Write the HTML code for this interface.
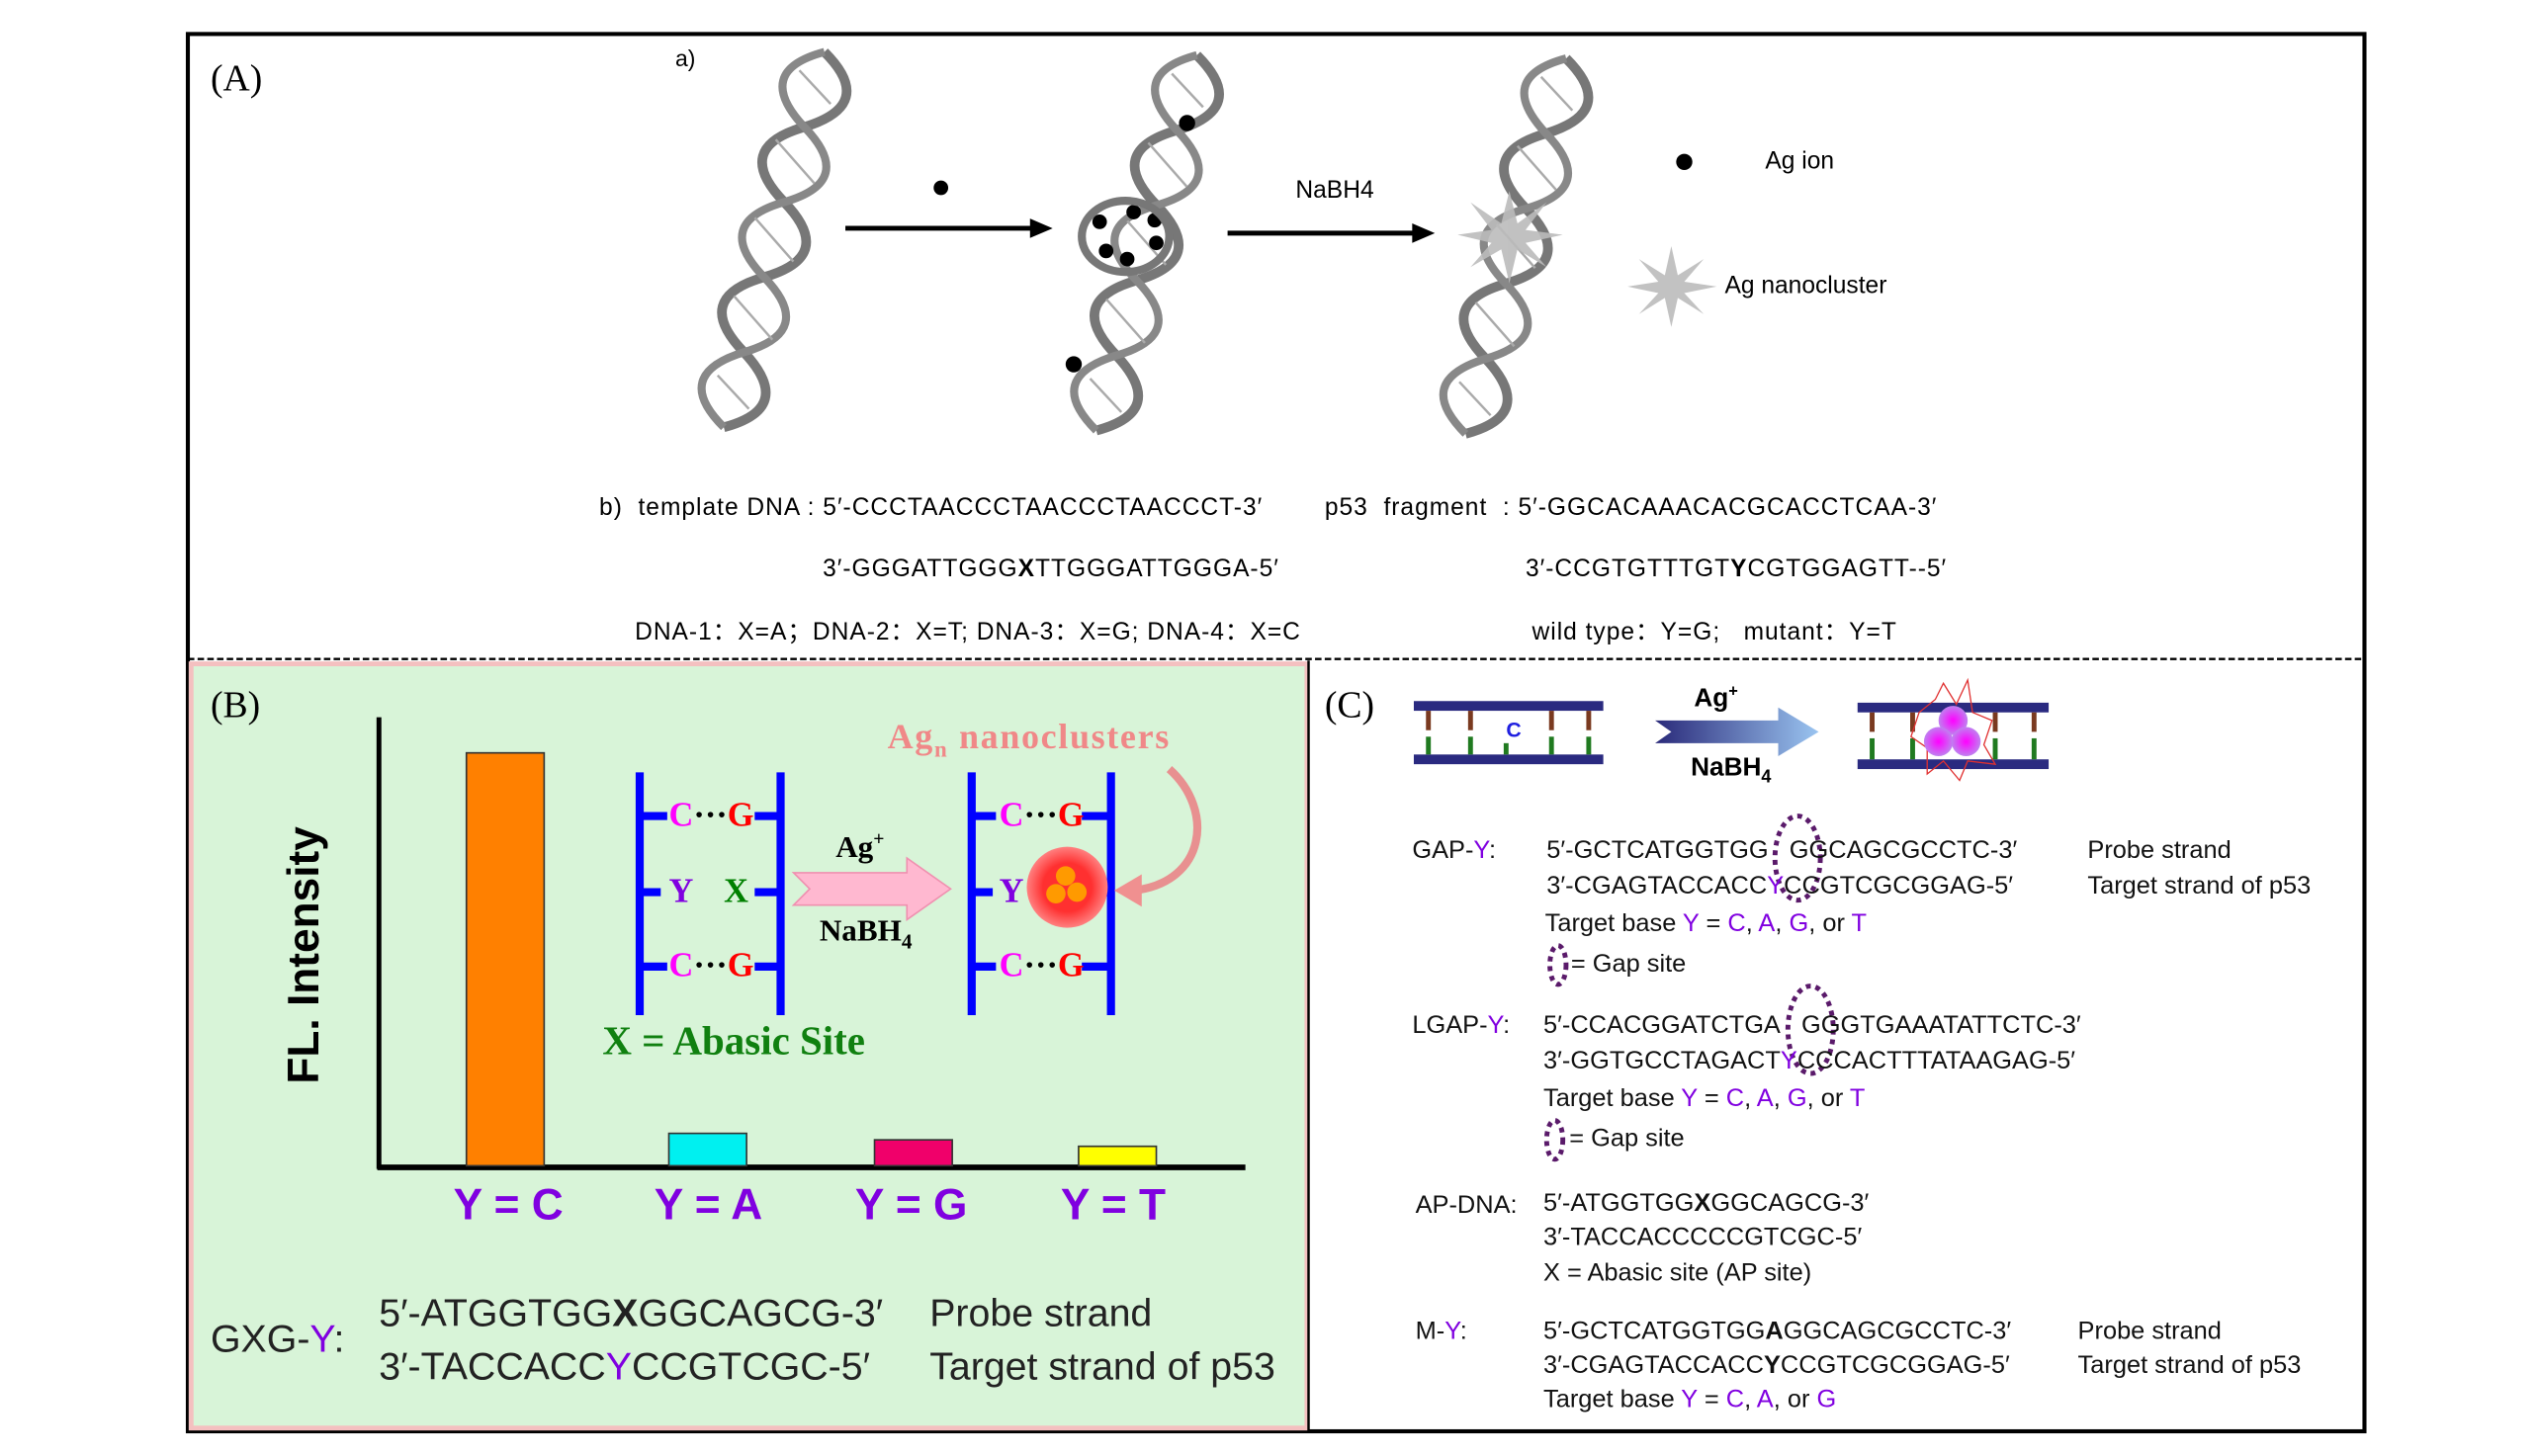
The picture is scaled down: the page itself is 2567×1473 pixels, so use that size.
<!DOCTYPE html>
<html><head><meta charset="utf-8"><style>
body{margin:0;background:#fff;width:2567px;height:1473px;overflow:hidden}
#w{position:absolute;left:0;top:0;width:1560px;height:895px;transform:scale(1.638);transform-origin:0 0;font-family:"Liberation Sans",Arial,sans-serif}
.t{position:absolute;white-space:nowrap;line-height:1}
.s{font-family:"Liberation Serif",serif}
.p{color:#8000e0}
.seq{font-size:15.5px;color:#111}
.b{letter-spacing:0.6px}
</style></head><body><div id="w">
<svg width="1560" height="895" style="position:absolute;left:0;top:0">
<defs>
<g id="hx">
<path d="M0,-120 Q40,-97 0,-72 Q-40,-48 0,-24 Q40,0 0,24 Q-40,48 0,72 Q40,97 0,120" fill="none" stroke="#777" stroke-width="6"/>
<path d="M0,-120 Q-40,-97 0,-72 Q40,-48 0,-24 Q-40,0 0,24 Q40,48 0,72 Q-40,97 0,120" fill="none" stroke="#888" stroke-width="5"/>
<g stroke="#aaa" stroke-width="1.5">
<line x1="-12" y1="-105" x2="12" y2="-90"/><line x1="-15" y1="-60" x2="15" y2="-40"/><line x1="-15" y1="-10" x2="15" y2="10"/><line x1="-15" y1="40" x2="15" y2="60"/><line x1="-12" y1="90" x2="12" y2="105"/>
</g></g>
<linearGradient id="bg" x1="0" x2="1"><stop offset="0" stop-color="#2a2a7a"/><stop offset="1" stop-color="#9ac4f0"/></linearGradient>
<radialGradient id="pk"><stop offset="0" stop-color="#f0f"/><stop offset="1" stop-color="#c080f0"/></radialGradient>
<radialGradient id="rd"><stop offset="0.6" stop-color="#ff3030"/><stop offset="1" stop-color="#ff8080"/></radialGradient>
</defs>
<rect x="116" y="21" width="1344" height="863" fill="none" stroke="#000" stroke-width="2.5"/>
<rect x="118" y="410" width="689" height="472" fill="#d8f4d8" stroke="#f4c0c0" stroke-width="3"/>
<line x1="116" y1="407" x2="1460" y2="407" stroke="#000" stroke-width="1.5" stroke-dasharray="4,2"/>
<line x1="808" y1="408" x2="808" y2="884" stroke="#000" stroke-width="1.5"/>
<use href="#hx" transform="translate(478,148) rotate(15)"/>
<use href="#hx" transform="translate(708,150) rotate(15)"/>
<use href="#hx" transform="translate(936,152) rotate(15)"/>
<g fill="#000"><circle cx="581" cy="116" r="4.5"/><circle cx="733" cy="76" r="5"/><circle cx="679" cy="137" r="4.5"/><circle cx="700" cy="131" r="4.5"/><circle cx="713" cy="136" r="4.5"/><circle cx="714" cy="150" r="4.5"/><circle cx="683" cy="155" r="4.5"/><circle cx="696" cy="160" r="4.5"/><circle cx="663" cy="225" r="5"/><circle cx="1040" cy="100" r="5"/></g>
<ellipse cx="695" cy="146" rx="27" ry="22" fill="none" stroke="#777" stroke-width="5"/>
<line x1="522" y1="141" x2="640" y2="141" stroke="#000" stroke-width="3"/><polygon points="650,141 636,135 636,147"/>
<line x1="758" y1="144" x2="875" y2="144" stroke="#000" stroke-width="3"/><polygon points="886,144 872,138 872,150"/>
<g fill="#bbb" opacity="0.9">
<polygon points="932,118 937,138 955,125 942,142 965,145 942,150 955,165 937,154 932,175 927,154 908,165 921,150 900,145 921,142 908,125 927,138"/>
<polygon points="1032,152 1036,170 1052,160 1040,174 1060,177 1040,181 1052,194 1036,184 1032,202 1028,184 1012,194 1024,181 1005,177 1024,174 1012,160 1028,170"/>
</g>
<line x1="234" y1="443" x2="234" y2="722" stroke="#000" stroke-width="3"/>
<line x1="233" y1="721" x2="769" y2="721" stroke="#000" stroke-width="3.5"/>
<rect x="288" y="465" width="48" height="255" fill="#ff8000" stroke="#333" stroke-width="1"/>
<rect x="413" y="700" width="48" height="20" fill="#00f0f0" stroke="#333" stroke-width="1"/>
<rect x="540" y="704" width="48" height="16" fill="#f0006a" stroke="#333" stroke-width="1"/>
<rect x="666" y="708" width="48" height="12" fill="#ffff00" stroke="#333" stroke-width="1"/>
<g stroke="#0000ff" stroke-width="5">
<line x1="395" y1="477" x2="395" y2="627"/><line x1="482" y1="477" x2="482" y2="627"/>
<line x1="395" y1="504" x2="412" y2="504"/><line x1="466" y1="504" x2="482" y2="504"/>
<line x1="395" y1="551" x2="408" y2="551"/><line x1="466" y1="551" x2="482" y2="551"/>
<line x1="395" y1="597" x2="412" y2="597"/><line x1="466" y1="597" x2="482" y2="597"/>
<line x1="600" y1="477" x2="600" y2="627"/><line x1="686" y1="477" x2="686" y2="627"/>
<line x1="600" y1="504" x2="615" y2="504"/><line x1="668" y1="504" x2="686" y2="504"/>
<line x1="600" y1="551" x2="613" y2="551"/><line x1="680" y1="551" x2="686" y2="551"/>
<line x1="600" y1="597" x2="615" y2="597"/><line x1="668" y1="597" x2="686" y2="597"/>
</g>
<polygon points="490,539 560,539 560,530 587,549 560,568 560,559 490,559 500,549" fill="#ffb8d0" stroke="#f090b0"/>
<circle cx="659" cy="548" r="25" fill="url(#rd)"/>
<g fill="#ff9a00"><circle cx="658" cy="541" r="6"/><circle cx="652" cy="552" r="6"/><circle cx="665" cy="551" r="6"/></g>
<path d="M722,475 C750,500 745,545 700,550" fill="none" stroke="#e89090" stroke-width="5"/>
<polygon points="688,550 705,540 705,560" fill="#f09090"/>
<g>
<rect x="873" y="433" width="117" height="6" fill="#2a2a80"/><rect x="873" y="466" width="117" height="6" fill="#2a2a80"/>
<g stroke-width="3"><g stroke="#7a3a20"><line x1="882" y1="439" x2="882" y2="451"/><line x1="908" y1="439" x2="908" y2="451"/><line x1="958" y1="439" x2="958" y2="451"/><line x1="981" y1="439" x2="981" y2="451"/></g>
<g stroke="#207a20"><line x1="882" y1="455" x2="882" y2="466"/><line x1="908" y1="455" x2="908" y2="466"/><line x1="930" y1="459" x2="930" y2="466"/><line x1="958" y1="455" x2="958" y2="466"/><line x1="981" y1="455" x2="981" y2="466"/></g></g>
<polygon points="1022,445 1098,445 1098,437 1123,452 1098,467 1098,459 1022,459 1032,452" fill="url(#bg)"/>
<rect x="1147" y="434" width="118" height="6" fill="#2a2a80"/><rect x="1147" y="469" width="118" height="6" fill="#2a2a80"/>
<g stroke-width="3"><g stroke="#7a3a20"><line x1="1156" y1="440" x2="1156" y2="452"/><line x1="1181" y1="440" x2="1181" y2="452"/><line x1="1232" y1="440" x2="1232" y2="452"/><line x1="1256" y1="440" x2="1256" y2="452"/></g>
<g stroke="#207a20"><line x1="1156" y1="456" x2="1156" y2="469"/><line x1="1181" y1="456" x2="1181" y2="469"/><line x1="1232" y1="456" x2="1232" y2="469"/><line x1="1256" y1="456" x2="1256" y2="469"/></g></g>
<polygon points="1185,440 1195,432 1200,422 1208,435 1215,420 1218,440 1230,445 1225,460 1232,472 1215,470 1210,482 1200,470 1190,478 1190,462 1180,455" fill="none" stroke="#e03030" stroke-width="0.8"/>
<circle cx="1206" cy="445" r="9" fill="url(#pk)"/><circle cx="1197" cy="458" r="9" fill="url(#pk)"/><circle cx="1214" cy="458" r="9" fill="url(#pk)"/>
</g>
<g fill="none" stroke="#5a1a6a" stroke-width="3" stroke-dasharray="3,3">
<ellipse cx="1110" cy="530" rx="14" ry="26"/><ellipse cx="1118" cy="636" rx="14" ry="27"/>
<ellipse cx="962" cy="596" rx="5" ry="12"/><ellipse cx="960" cy="704" rx="5" ry="12"/>
</g>
</svg>
<div class="t s" style="left:130px;top:37px;font-size:23px">(A)</div>
<div class="t" style="left:417px;top:29px;font-size:14px">a)</div>
<div class="t" style="left:800px;top:110px;font-size:15px">NaBH4</div>
<div class="t" style="left:1090px;top:92px;font-size:15px">Ag ion</div>
<div class="t" style="left:1065px;top:169px;font-size:15px">Ag nanocluster</div>
<div class="t b" style="left:370px;top:306px;font-size:15px">b)&nbsp; template DNA : 5′-CCCTAACCCTAACCCTAACCCT-3′</div>
<div class="t b" style="left:818px;top:306px;font-size:15px">p53&nbsp; fragment&nbsp; : 5′-GGCACAAACACGCACCTCAA-3′</div>
<div class="t b" style="left:508px;top:344px;font-size:15px">3′-GGGATTGGG<b>X</b>TTGGGATTGGGA-5′</div>
<div class="t b" style="left:942px;top:344px;font-size:15px">3′-CCGTGTTTGT<b>Y</b>CGTGGAGTT--5′</div>
<div class="t b" style="left:392px;top:383px;font-size:15px">DNA-1：X=A；DNA-2：X=T; DNA-3：X=G; DNA-4：X=C</div>
<div class="t b" style="left:946px;top:383px;font-size:15px">wild type：Y=G;&nbsp;&nbsp; mutant：Y=T</div>
<div class="t s" style="left:130px;top:424px;font-size:23px">(B)</div>
<div class="t" style="left:188px;top:590px;font-size:27px;font-weight:bold;transform:translate(-50%,-50%) rotate(-90deg)">FL. Intensity</div>
<div class="t p" style="left:280px;top:731px;font-size:27px;font-weight:bold">Y = C</div>
<div class="t p" style="left:404px;top:731px;font-size:27px;font-weight:bold">Y = A</div>
<div class="t p" style="left:528px;top:731px;font-size:27px;font-weight:bold">Y = G</div>
<div class="t p" style="left:655px;top:731px;font-size:27px;font-weight:bold">Y = T</div>
<div class="t s" style="left:413px;top:493px;font-size:21px;font-weight:bold"><span style="color:#ff00ff">C</span>···<span style="color:#ff0000">G</span></div>
<div class="t s" style="left:413px;top:586px;font-size:21px;font-weight:bold"><span style="color:#ff00ff">C</span>···<span style="color:#ff0000">G</span></div>
<div class="t s" style="left:413px;top:540px;font-size:21px;font-weight:bold;color:#8000e0">Y</div>
<div class="t s" style="left:447px;top:540px;font-size:21px;font-weight:bold;color:#008000">X</div>
<div class="t s" style="left:617px;top:493px;font-size:21px;font-weight:bold"><span style="color:#ff00ff">C</span>···<span style="color:#ff0000">G</span></div>
<div class="t s" style="left:617px;top:586px;font-size:21px;font-weight:bold"><span style="color:#ff00ff">C</span>···<span style="color:#ff0000">G</span></div>
<div class="t s" style="left:617px;top:540px;font-size:21px;font-weight:bold;color:#8000e0">Y</div>
<div class="t s" style="left:516px;top:512px;font-size:19px;font-weight:bold">Ag<sup style="font-size:12px">+</sup></div>
<div class="t s" style="left:506px;top:566px;font-size:19px;font-weight:bold">NaBH<sub style="font-size:13px">4</sub></div>
<div class="t s" style="left:548px;top:444px;font-size:22px;font-weight:bold;color:#f08888;letter-spacing:1px">Ag<sub style="font-size:14px">n</sub> nanoclusters</div>
<div class="t s" style="left:372px;top:631px;font-size:25px;font-weight:bold;color:#108010">X = Abasic Site</div>
<div class="t" style="left:130px;top:816px;font-size:24px;color:#222">GXG-<span class="p">Y</span>:</div>
<div class="t" style="left:234px;top:800px;font-size:24px;color:#222">5′-ATGGTGG<b>X</b>GGCAGCG-3′</div>
<div class="t" style="left:234px;top:833px;font-size:24px;color:#222">3′-TACCACC<span class="p">Y</span>CCGTCGC-5′</div>
<div class="t" style="left:574px;top:800px;font-size:24px;color:#222">Probe strand</div>
<div class="t" style="left:574px;top:833px;font-size:24px;color:#222">Target strand of p53</div>
<div class="t s" style="left:818px;top:424px;font-size:23px">(C)</div>
<div class="t" style="left:930px;top:444px;font-size:13px;color:#2020e0;font-weight:bold">C</div>
<div class="t" style="left:1046px;top:423px;font-size:16px;font-weight:bold">Ag<sup style="font-size:10px">+</sup></div>
<div class="t" style="left:1044px;top:467px;font-size:16px;font-weight:bold">NaBH<sub style="font-size:11px">4</sub></div>
<div class="t seq" style="left:872px;top:518px">GAP-<span class="p">Y</span>:</div>
<div class="t seq" style="left:955px;top:518px">5′-GCTCATGGTGG&nbsp;&nbsp; GGCAGCGCCTC-3′</div>
<div class="t seq" style="left:955px;top:540px">3′-CGAGTACCACC<span class="p">Y</span>CCGTCGCGGAG-5′</div>
<div class="t seq" style="left:1289px;top:518px">Probe strand</div>
<div class="t seq" style="left:1289px;top:540px">Target strand of p53</div>
<div class="t seq" style="left:954px;top:563px">Target base <span class="p">Y</span> = <span class="p">C</span>, <span class="p">A</span>, <span class="p">G</span>, or <span class="p">T</span></div>
<div class="t seq" style="left:970px;top:588px">= Gap site</div>
<div class="t seq" style="left:872px;top:626px">LGAP-<span class="p">Y</span>:</div>
<div class="t seq" style="left:953px;top:626px">5′-CCACGGATCTGA&nbsp;&nbsp; GGGTGAAATATTCTC-3′</div>
<div class="t seq" style="left:953px;top:648px">3′-GGTGCCTAGACT<span class="p">Y</span>CCCACTTTATAAGAG-5′</div>
<div class="t seq" style="left:953px;top:671px">Target base <span class="p">Y</span> = <span class="p">C</span>, <span class="p">A</span>, <span class="p">G</span>, or <span class="p">T</span></div>
<div class="t seq" style="left:969px;top:696px">= Gap site</div>
<div class="t seq" style="left:874px;top:737px">AP-DNA:</div>
<div class="t seq" style="left:953px;top:736px">5′-ATGGTGG<b>X</b>GGCAGCG-3′</div>
<div class="t seq" style="left:953px;top:757px">3′-TACCACCCCCGTCGC-5′</div>
<div class="t seq" style="left:953px;top:779px">X = Abasic site (AP site)</div>
<div class="t seq" style="left:874px;top:815px">M-<span class="p">Y</span>:</div>
<div class="t seq" style="left:953px;top:815px">5′-GCTCATGGTGG<b>A</b>GGCAGCGCCTC-3′</div>
<div class="t seq" style="left:953px;top:836px">3′-CGAGTACCACC<b>Y</b>CCGTCGCGGAG-5′</div>
<div class="t seq" style="left:1283px;top:815px">Probe strand</div>
<div class="t seq" style="left:1283px;top:836px">Target strand of p53</div>
<div class="t seq" style="left:953px;top:857px">Target base <span class="p">Y</span> = <span class="p">C</span>, <span class="p">A</span>, or <span class="p">G</span></div>
</div></body></html>
